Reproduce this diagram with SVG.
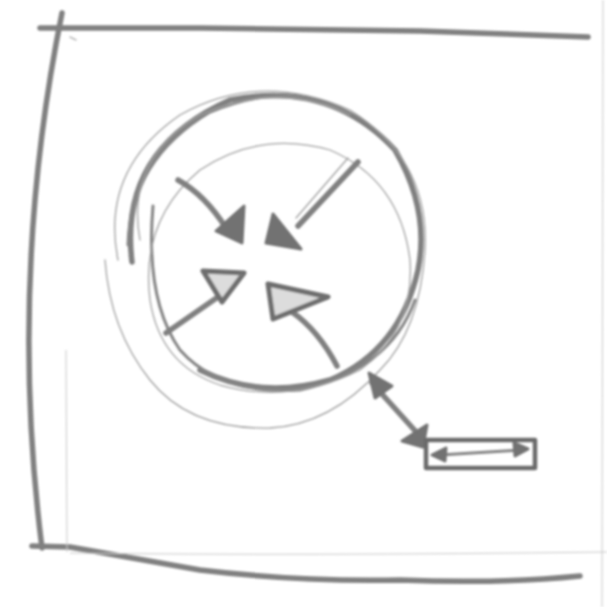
<svg xmlns="http://www.w3.org/2000/svg" width="607" height="607" viewBox="0 0 607 607">
  <defs>
    <filter id="soft" x="-5%" y="-5%" width="110%" height="110%">
      <feGaussianBlur stdDeviation="0.8"/>
    </filter>
  </defs>
  <style>
    .heavy { fill: none; stroke: #808080; stroke-width: 5.5; stroke-linecap: round; stroke-linejoin: round; }
    .mid { fill: none; stroke: #858585; stroke-width: 3; stroke-linecap: round; stroke-linejoin: round; }
    .thin { fill: none; stroke: #a0a0a0; stroke-width: 1.3; stroke-linecap: round; }
    .faint { fill: none; stroke: #c8c8c8; stroke-width: 1; }
    .head { fill: #727272; stroke: #727272; stroke-width: 3; stroke-linejoin: round; }
    .ohead { fill: #dcdcdc; stroke: #6e6e6e; stroke-width: 5; stroke-linejoin: round; }
  </style>
  <rect width="607" height="607" fill="#ffffff"/>
  <g filter="url(#soft)">
    <g id="frame">
      <path class="heavy" d="M40 28 L200 28 L420 31 L588 37"/>
      <path class="heavy" d="M62 13 Q8 280 42 548"/>
      <path class="heavy" d="M32 546 L70 547 Q120 556 200 570 Q300 582 400 580 Q500 584 580 576"/>
      <path class="faint" d="M66 350 L67 552"/>
      <path class="faint" d="M70 553 Q300 556 607 552"/>
      <path class="faint" d="M603 0 L602 607"/>
      <path class="thin" d="M70 37 L76 40"/>
    </g>
    <g id="circle">
      <path class="heavy" d="M132 262 Q118 150 230 100 Q330 80 395 150 Q430 210 418 270 Q400 350 330 380 Q260 400 200 370"/>
      <path class="mid" d="M128 245 Q130 160 210 112 Q260 92 300 96"/>
      <path class="mid" d="M153 206 Q145 300 180 350 Q220 395 300 390 Q390 370 415 300"/>
      <path class="thin" d="M140 240 Q125 160 200 115 Q280 80 350 115"/>
      <path class="thin" d="M118 260 Q100 170 180 115 Q260 70 350 110 Q430 160 425 250 Q420 330 380 370 Q330 425 270 428 Q190 430 150 380 Q110 330 105 260"/>
      <path class="thin" d="M150 300 Q140 220 200 170 Q260 130 330 150 Q400 180 410 260 Q415 330 360 370 Q290 405 220 385 Q160 365 150 300"/>
    </g>
    <g id="connectors">
      <path class="heavy" d="M178 180 Q205 195 226 228"/>
      <polygon class="head" points="216,231 244,206 242,243"/>
      <path class="heavy" d="M358 162 L298 226"/>
      <path class="thin" d="M348 158 L296 218"/>
      <polygon class="head" points="273,214 266,243 301,249"/>
      <path class="heavy" d="M166 333 L228 290"/>
      <polygon class="ohead" points="203,271 244,273 222,302"/>
      <path class="heavy" d="M337 366 Q318 330 292 312"/>
      <polygon class="ohead" points="268,284 328,297 273,319"/>
      <path class="heavy" d="M372 383 L418 434"/>
      <polygon class="head" points="369,373 392,386 375,398"/>
      <polygon class="head" points="402,441 427,425 423,447"/>
    </g>
    <g id="box">
      <rect x="426" y="440" width="109" height="28" fill="none" stroke="#6a6a6a" stroke-width="4.5" stroke-linejoin="round"/>
      <path class="mid" d="M440 455 L522 450"/>
      <polygon class="head" points="432,455 446,448 445,461"/>
      <polygon class="head" points="528,449 514,443 515,456"/>
    </g>
  </g>
</svg>
